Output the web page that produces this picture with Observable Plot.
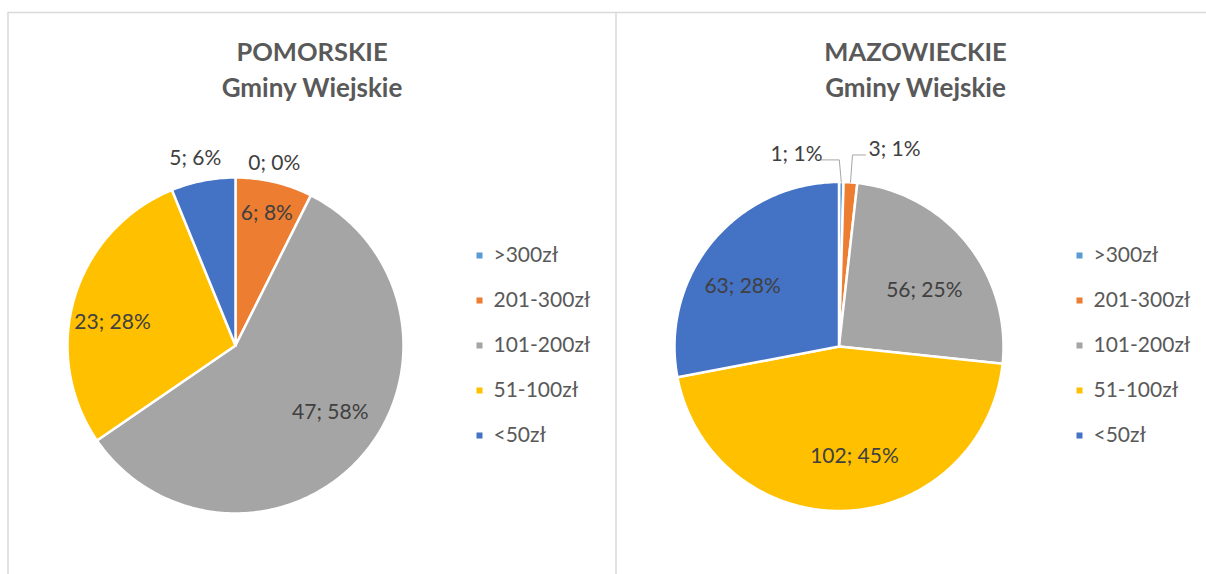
<!DOCTYPE html>
<html>
<head>
<meta charset="utf-8">
<script src="https://cdn.jsdelivr.net/npm/d3@7"></script>
<script src="https://cdn.jsdelivr.net/npm/@observablehq/plot@0.6"></script>
<style>
  html, body { margin: 0; padding: 0; background: #fff; }
  #chart { width: 1206px; height: 574px; }
</style>
</head>
<body>
<div id="chart"></div>
<script>
// ---- data ----
const categories = [">300zł", "201-300zł", "101-200zł", "51-100zł", "<50zł"];
const colors = ["#5B9BD5", "#ED7D31", "#A5A5A5", "#FFC000", "#4472C4"];
const pomorskieTitle = ["POMORSKIE", "Gminy Wiejskie"];
const pomorskieValues = [0, 6, 47, 23, 5];
const pomorskiePercents = [0, 8, 58, 28, 6];
const mazowieckieTitle = ["MAZOWIECKIE", "Gminy Wiejskie"];
const mazowieckieValues = [1, 3, 56, 102, 63];
const mazowieckiePercents = [1, 1, 25, 45, 28];

// ---- layout (not data) ----
const panels = [
  {
    title: pomorskieTitle, values: pomorskieValues, percents: pomorskiePercents,
    cx: 235, cy: 345, r: 168, titleX: 311.5, legendX: 479,
    offsets: [12, 0, -6, -6, -1], ks: [1.11, 0.81, 0.69, 0.745, 1.14],
    anchors: ["middle", "middle", "middle", "middle", "middle"],
    leaders: [false, false, false, false, false]
  },
  {
    title: mazowieckieTitle, values: mazowieckieValues, percents: mazowieckiePercents,
    cx: 838.5, cy: 346, r: 164.5, titleX: 915, legendX: 1079,
    offsets: [-5.7, 4.5, 5.6, -5.6, -7.7], ks: [1.175, 1.214, 0.62, 0.675, 0.69],
    anchors: ["end", "start", "middle", "middle", "middle"],
    leaders: [true, true, false, false, false]
  }
];
const legendYs = [255, 300, 345, 390, 435];
const rad = Math.PI / 180;

const slicePts = [], labels = [], leaders = [], titles1 = [], titles2 = [], legend = [];
panels.forEach((p, pi) => {
  const arcs = d3.pie().sort(null).value(d => d)(p.values);
  arcs.forEach((a, i) => {
    const key = pi + "-" + i;
    if (a.value > 0) {
      slicePts.push({key, category: categories[i], x: p.cx, y: p.cy});
      const n = Math.max(2, Math.ceil((a.endAngle - a.startAngle) / rad));
      for (let j = 0; j <= n; j++) {
        const t = a.startAngle + (a.endAngle - a.startAngle) * j / n;
        slicePts.push({key, category: categories[i], x: p.cx + p.r * Math.sin(t), y: p.cy - p.r * Math.cos(t)});
      }
      slicePts.push({key, category: categories[i], x: p.cx, y: p.cy});
    }
    const mid = (a.startAngle + a.endAngle) / 2;
    const la = mid + p.offsets[i] * rad;
    const lx = p.cx + p.r * p.ks[i] * Math.sin(la);
    const ly = p.cy - p.r * p.ks[i] * Math.cos(la);
    labels.push({x: lx, y: ly, text: `${p.values[i]}; ${p.percents[i]}%`, anchor: p.anchors[i]});
    if (p.leaders[i]) {
      const dir = p.anchors[i] === "end" ? -1 : 1;
      const ex = p.cx + p.r * Math.sin(mid), ey = p.cy - p.r * Math.cos(mid);
      const lineY = ly + 6;
      leaders.push({key, x: lx - dir * (p.anchors[i] === "end" ? -5 : 3), y: lineY});
      leaders.push({key, x: ex + dir * 2, y: lineY});
      leaders.push({key, x: ex, y: ey});
    }
    legend.push({x: p.legendX, y: legendYs[i], category: categories[i]});
  });
  titles1.push({x: p.titleX, y: 52.5, text: p.title[0]});
  titles2.push({x: p.titleX, y: 88.5, text: p.title[1]});
});

const font = "Lato, 'Noto Sans', sans-serif";
const chart = Plot.plot({
  width: 1206, height: 574, margin: 0,
  x: {domain: [0, 1206], range: [0, 1206], axis: null},
  y: {domain: [0, 574], range: [0, 574], axis: null},
  color: {domain: categories, range: colors},
  style: {fontFamily: font, background: "white"},
  marks: [
    Plot.ruleY([12], {x1: 7.5, x2: 1206, stroke: "#D9D9D9", strokeWidth: 1.5}),
    Plot.ruleX([7.5, 615.5], {y1: 12, y2: 574, stroke: "#D9D9D9", strokeWidth: 1.5}),
    Plot.line(slicePts, {x: "x", y: "y", z: "key", fill: "category", stroke: "white", strokeWidth: 2.5, strokeLinejoin: "round", curve: "linear"}),
    Plot.line(leaders, {x: "x", y: "y", z: "key", stroke: "#A6A6A6", strokeWidth: 1}),
    ...["start", "middle", "end"].map(an => Plot.text(labels.filter(d => d.anchor === an), {
      x: "x", y: "y", text: "text", textAnchor: an, fill: "#404040", fontSize: 21, fontFamily: font
    })),
    Plot.text(titles1, {x: "x", y: "y", text: "text", fill: "#595959", fontSize: 25.5, fontWeight: "bold", fontFamily: font}),
    Plot.text(titles2, {x: "x", y: "y", text: "text", fill: "#595959", fontSize: 26, fontWeight: "bold", fontFamily: font, letterSpacing: "0.6px"}),
    Plot.dot(legend, {x: "x", y: "y", fill: "category", symbol: "square", r: 3.4, stroke: null}),
    Plot.text(legend, {x: d => d.x + 14, y: "y", text: "category", textAnchor: "start", fill: "#595959", fontSize: 21, fontFamily: font})
  ]
});
document.getElementById("chart").appendChild(chart);
</script>
</body>
</html>
